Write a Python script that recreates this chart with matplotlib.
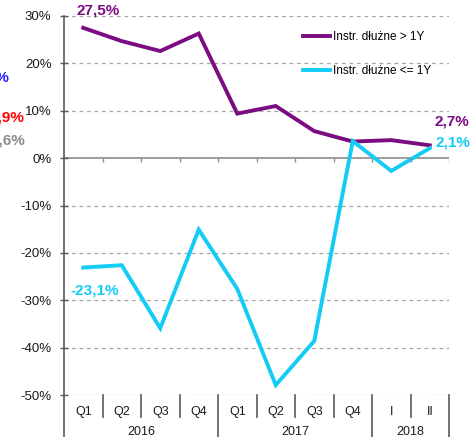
import numpy as np
import matplotlib
matplotlib.use("Agg")
import matplotlib.pyplot as plt
import matplotlib.transforms as mtransforms

plt.rcParams['font.family'] = ['Liberation Sans', 'DejaVu Sans']

# data
quarters = ["Q1", "Q2", "Q3", "Q4", "Q1", "Q2", "Q3", "Q4", "I", "II"]
years = ["2016", "2017", "2018"]
year_spans = [(0, 3), (4, 7), (8, 9)]
long_debt = [27.5, 24.7, 22.6, 26.3, 9.4, 11.0, 5.7, 3.5, 3.8, 2.7]
short_debt = [-23.1, -22.6, -35.9, -15.1, -27.6, -47.9, -38.6, 3.6, -2.7, 2.1]
yticks = [30, 20, 10, 0, -10, -20, -30, -40, -50]

purple = '#7B0C82'
cyan = '#12CCF5'
axcol = '#595959'

fig = plt.figure(figsize=(4.77, 4.37), dpi=100)
ax = fig.add_axes([64/477, 1-395/437, 385/477, 379/437])

x = np.arange(len(quarters))
ax.plot(x, long_debt, color=purple, lw=2.8, label='Instr. dłużne > 1Y', solid_joinstyle='miter')
ax.plot(x, short_debt, color=cyan, lw=2.8, label='Instr. dłużne <= 1Y', solid_joinstyle='miter')

ax.set_xlim(-0.5, len(quarters) - 0.5)
ax.set_ylim(-50, 30)

# grid
for v in yticks:
    if v != 0:
        ax.axhline(v, color='#A6A6A6', lw=0.9, ls=(0, (3, 3)), zorder=0)
ax.axhline(0, color='#8C8C8C', lw=1.2, zorder=1)
bounds = np.arange(len(quarters) + 1) - 0.5
ax.vlines(bounds[1:], -0.9, 0, color='#8C8C8C', lw=1.0)

for s in ['top', 'right', 'bottom']:
    ax.spines[s].set_visible(False)
ax.spines['left'].set_visible(False)

ax.set_yticks(yticks)
ax.set_yticklabels(['%d%%' % v for v in yticks], fontsize=9.5, color='#1a1a1a')
ax.tick_params(axis='y', direction='inout', length=6, width=1, color=axcol, pad=6)
ax.set_xticks(x)
ax.set_xticklabels(quarters, fontsize=9, color='#1a1a1a')
ax.tick_params(axis='x', length=0, pad=8)

# category separators and year labels
trans = mtransforms.blended_transform_factory(ax.transData, ax.transAxes)
year_edges = [-0.5] + [b[1] + 0.5 for b in year_spans]
for b in bounds:
    low = -0.111 if b in year_edges else -0.058
    top = 1.0 if b == -0.5 else 0.0
    ax.plot([b, b], [low, top], color=axcol, lw=1.2, transform=trans, clip_on=False)
for yr, (a, b) in zip(years, year_spans):
    ax.text((a + b) / 2, -0.098, yr, transform=trans, ha='center', va='center',
            fontsize=9, color='#1a1a1a')

# value labels
ax.annotate('27,5%', (0, long_debt[0]), xytext=(10.8, 12.2), textcoords='offset points',
            ha='center', va='center', fontsize=11, fontweight='bold', color=purple)
ax.annotate('-23,1%', (0, short_debt[0]), xytext=(7.9, -16.6), textcoords='offset points',
            ha='center', va='center', fontsize=11, fontweight='bold', color=cyan)
ax.annotate('2,7%', (9, long_debt[-1]), xytext=(15.8, 17.3), textcoords='offset points',
            ha='center', va='center', fontsize=11, fontweight='bold', color=purple)
ax.annotate('2,1%', (9, short_debt[-1]), xytext=(16.5, 4.0), textcoords='offset points',
            ha='center', va='center', fontsize=11, fontweight='bold', color=cyan)

# cut-off labels from neighbouring chart
fig.text(10/477, 1-77/437, '4,1%', ha='right', va='center', fontsize=11, fontweight='bold', color='#1F1FFF')
fig.text(24/477, 1-118/437, '1,9%', ha='right', va='center', fontsize=11, fontweight='bold', color='#FF0000')
fig.text(25/477, 1-140/437, '0,6%', ha='right', va='center', fontsize=11, fontweight='bold', color='#8C8C8C')

ax.legend(loc='upper left', bbox_to_anchor=(303/477, 1-31/437), bbox_transform=fig.transFigure,
          frameon=False, fontsize=8.5, handlelength=2.3, handletextpad=0.25,
          labelspacing=1.9, borderpad=0, borderaxespad=0)

fig.savefig('out.png', dpi=100)
